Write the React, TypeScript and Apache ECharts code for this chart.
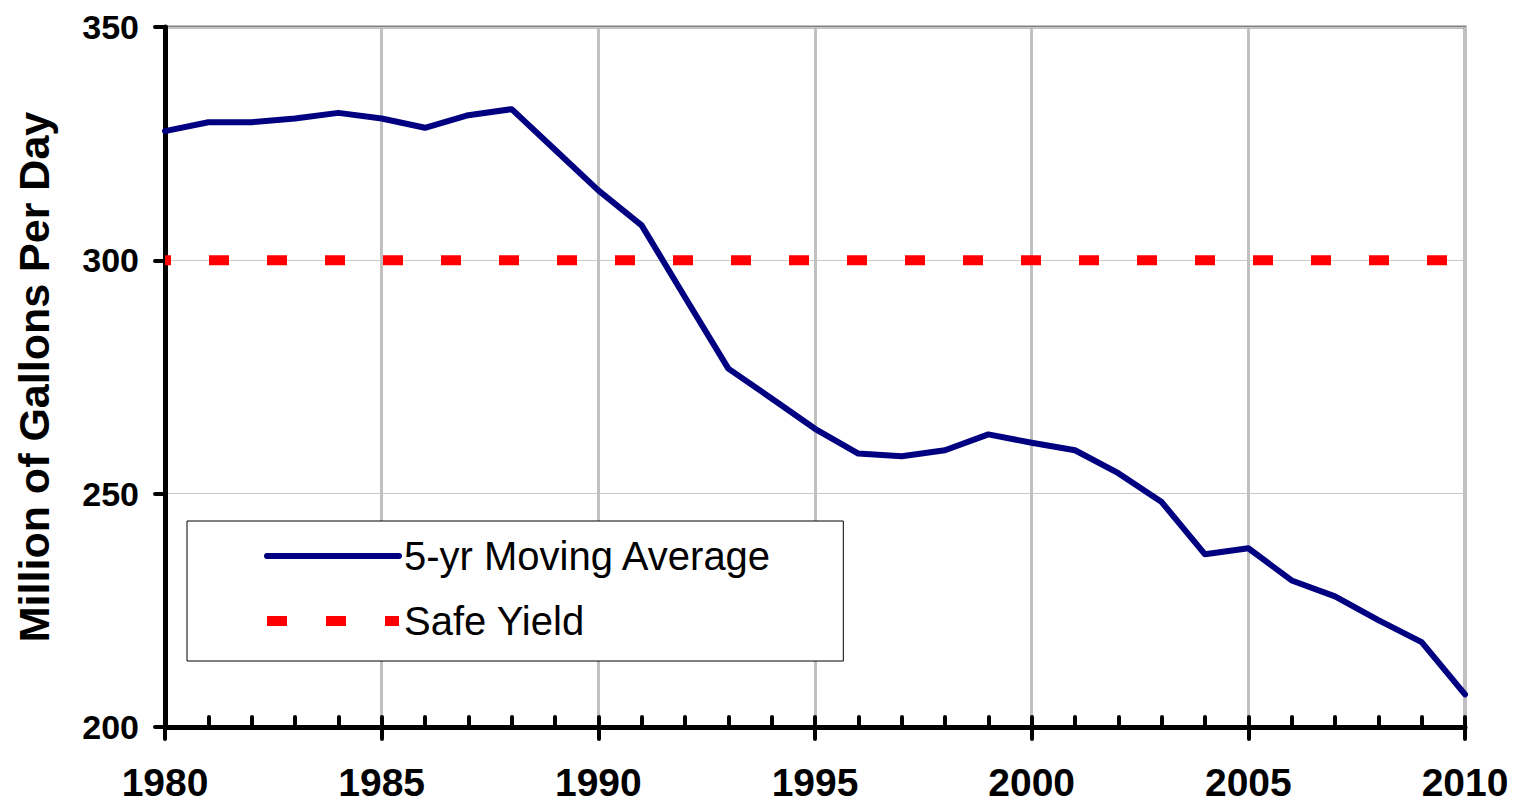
import { useEffect, useRef } from 'react';
import * as echarts from 'echarts';

const years = [
  1980, 1981, 1982, 1983, 1984, 1985, 1986, 1987, 1988, 1989,
  1990, 1991, 1992, 1993, 1994, 1995, 1996, 1997, 1998, 1999,
  2000, 2001, 2002, 2003, 2004, 2005, 2006, 2007, 2008, 2009, 2010,
];
const movingAverage = [
  327.7, 329.6, 329.6, 330.4, 331.6, 330.4, 328.4, 331.1, 332.4, 323.7,
  315.0, 307.5, 292.1, 276.8, 270.4, 263.9, 258.6, 258.0, 259.3, 262.7,
  260.9, 259.3, 254.4, 248.2, 237.0, 238.3, 231.4, 228.0, 222.9, 218.2, 207.0,
];
const safeYieldYears = [1980, 2010];
const safeYieldValues = [300, 300];
const seriesNames = ['5-yr Moving Average', 'Safe Yield'];
const yAxisTitle = 'Million of Gallons Per Day';

const FONT = '"Liberation Sans", Arial, sans-serif';

export default function App() {
  const ref = useRef<HTMLDivElement>(null);
  useEffect(() => {
    if (!ref.current) return;
    const chart = echarts.init(ref.current, undefined, { renderer: 'svg' });
    chart.setOption({
      animation: false,
      backgroundColor: '#ffffff',
      grid: {
        left: 165,
        right: 55,
        top: 27,
        bottom: 81,
        containLabel: false,
        outerBoundsMode: 'none',
        show: true,
        borderColor: '#808080',
        borderWidth: 3,
      },
      legend: {
        orient: 'vertical',
        left: 187,
        top: 521,
        padding: [13, 71, 18, 75],
        itemGap: 21,
        itemWidth: 132,
        itemHeight: 14,
        backgroundColor: '#ffffff',
        borderColor: '#000000',
        borderWidth: 1,
        borderRadius: 0,
        textStyle: {
          fontFamily: FONT,
          fontSize: 40,
          lineHeight: 44,
          color: '#000000',
        },
        data: [
          {
            name: seriesNames[0],
            itemStyle: { opacity: 0 },
            lineStyle: { width: 6, color: '#000080', cap: 'round' },
          },
          {
            name: seriesNames[1],
            itemStyle: { opacity: 0 },
            lineStyle: { width: 10, color: '#ff0000', type: [20, 39], dashOffset: 0, cap: 'butt' },
          },
        ],
      },
      xAxis: [
        {
          type: 'value',
          position: 'bottom',
          min: 1980,
          max: 2010,
          interval: 1,
          axisLine: { show: true, onZero: false, lineStyle: { color: '#000000', width: 5 } },
          axisTick: { show: true, inside: true, length: 10, lineStyle: { color: '#000000', width: 4, cap: 'round' } },
          axisLabel: { show: false },
          splitLine: { show: false },
        },
        {
          type: 'value',
          position: 'bottom',
          min: 1980,
          max: 2010,
          interval: 5,
          axisLine: { show: false, onZero: false },
          axisTick: { show: true, inside: false, length: 12, lineStyle: { color: '#000000', width: 4, cap: 'round' } },
          axisLabel: {
            show: true,
            margin: 36,
            fontFamily: FONT,
            fontWeight: 'bold',
            fontSize: 39,
            color: '#000000',
            formatter: (v: number) => String(v),
          },
          splitLine: { show: true, lineStyle: { color: '#c0c0c0', width: 3 } },
        },
      ],
      yAxis: {
        type: 'value',
        min: 200,
        max: 350,
        interval: 50,
        name: yAxisTitle,
        nameLocation: 'middle',
        nameGap: 110,
        nameTextStyle: {
          fontFamily: FONT,
          fontWeight: 'bold',
          fontSize: 43,
          color: '#000000',
        },
        axisLine: { show: true, onZero: false, lineStyle: { color: '#000000', width: 5 } },
        axisTick: { show: true, inside: false, length: 10, lineStyle: { color: '#000000', width: 4, cap: 'round' } },
        axisLabel: {
          margin: 26,
          fontFamily: FONT,
          fontWeight: 'bold',
          fontSize: 34,
          color: '#000000',
        },
        splitLine: { show: true, lineStyle: { color: '#c8c8c8', width: 1 } },
      },
      series: [
        {
          name: seriesNames[0],
          type: 'line',
          xAxisIndex: 0,
          data: years.map((y, i) => [y, movingAverage[i]]),
          symbol: 'none',
          z: 4,
          lineStyle: { color: '#000080', width: 6, join: 'round', cap: 'round' },
          itemStyle: { color: '#000080' },
        },
        {
          name: seriesNames[1],
          type: 'line',
          xAxisIndex: 0,
          data: safeYieldYears.map((y, i) => [y, safeYieldValues[i]]),
          symbol: 'none',
          z: 3,
          lineStyle: { color: '#ff0000', width: 10, type: [20, 38], dashOffset: 14, cap: 'butt' },
          itemStyle: { color: '#ff0000' },
        },
      ],
    });
    return () => chart.dispose();
  }, []);
  return (
    <div
      ref={ref}
      style={{ position: 'fixed', left: 0, top: 0, width: 1520, height: 808 }}
    />
  );
}
